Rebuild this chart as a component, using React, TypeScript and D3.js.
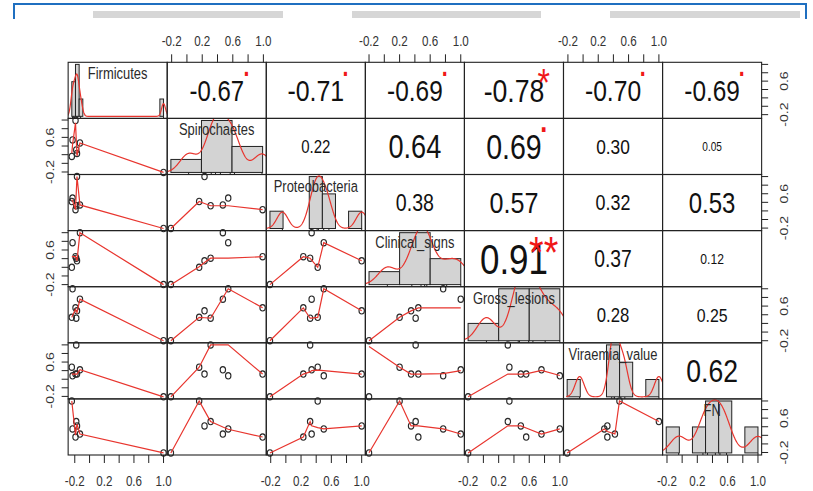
import { useEffect, useRef } from 'react'
import * as d3 from 'd3'

// variable names, in the order of the matrix
const varNames = ['Firmicutes', 'Spirochaetes', 'Proteobacteria', 'Clinical_signs', 'Gross_lesions', 'Viraemia_value', 'FN']

// one value per sample (7 samples)
const firmicutes = [1.0, -0.24, -0.17, -0.18, -0.13, -0.23, -0.19]
const spirochaetes = [-0.21, 0.16, 0.23, 0.31, 0.47, 0.54, 0.99]
const proteobacteria = [-0.21, 0.42, 1.0, 0.32, 0.34, 0.5, 0.23]
const clinicalSigns = [-0.2, 0.2, 0.35, 0.41, 1.0, 0.77, 0.445]
const grossLesions = [-0.2, 0.34, 0.49, 0.32, 0.76, 1.0, 0.56]
const viraemiaValue = [-0.21, 0.48, 0.32, 1.0, 0.42, 0.28, 0.32]
const fnValues = [-0.21, 1.0, 0.42, 0.52, 0.23, 0.35, 0.16]

// smoother values read off three panels where R's robust lowess dropped the outliers
// (in x-sorted order); all the other panels use lowess() below
const smoothViraemiaVsClinical = [0.96, 0.48, 0.32, 0.32, 0.32, 0.33, 0.4]
const smoothViraemiaVsProteo = [-0.21, 0.32, 0.37, 0.4, 0.41, 0.4, 0.32]
const smoothFnVsProteo = [-0.21, 0.16, 0.52, 0.42, 0.38, 0.35, 0.42]

// upper triangle, row by row: printed r and its significance mark
const corValues = [-0.67, -0.71, -0.69, -0.78, -0.7, -0.69, 0.22, 0.64, 0.69, 0.3, 0.05, 0.38, 0.57, 0.32, 0.53, 0.91, 0.37, 0.12, 0.28, 0.25, 0.62]
const corStars = ['.', '.', '.', '*', '.', '.', '', '', '.', '', '', '', '', '', '', '**', '', '', '', '', '']

// tick labels that R keeps (the others overlap and are dropped)
const xTickLabels = ['-0.2', '0.2', '0.6', '1.0']
const yTickLabels = ['-0.2', '0.6']

const W = 813
const H = 491
const L = 68.14
const T = 62.3
const CW = 99.07
const CH = 56.1
const SX = 0.83 // picture is squeezed horizontally
const FONT = "'Liberation Sans', Arial, Helvetica, sans-serif"
const RED = '#e8352e'

// R pretty()
function pretty(lo: number, hi: number, ndiv: number) {
  const h = 1.5, h5 = 0.5 + 1.5 * h
  const cell = (hi - lo) / ndiv
  const base = Math.pow(10, Math.floor(Math.log10(cell)))
  let unit = base
  if (2 * base - cell < h * (cell - unit)) {
    unit = 2 * base
    if (5 * base - cell < h5 * (cell - unit)) {
      unit = 5 * base
      if (10 * base - cell < h * (cell - unit)) unit = 10 * base
    }
  }
  let ns = Math.floor(lo / unit + 1e-10)
  let nu = Math.ceil(hi / unit - 1e-10)
  while (ns * unit > lo + 1e-10 * unit) ns--
  while (nu * unit < hi - 1e-10 * unit) nu++
  return d3.range(ns, nu + 1).map((k) => +(k * unit).toFixed(10))
}

// hist(breaks = "FD")
function fdBreaks(v: number[]) {
  const iqr = d3.quantile(v, 0.75)! - d3.quantile(v, 0.25)!
  const [a, b] = d3.extent(v) as [number, number]
  const nclass = Math.ceil((b - a) / (2 * iqr * Math.pow(v.length, -1 / 3)))
  return pretty(a, b, nclass)
}

// R lowess(x, y, f = 2/3, iter = 3)
function lowess(xIn: number[], yIn: number[], f = 2 / 3, nsteps = 3) {
  const order = d3.range(xIn.length).sort((a, b) => xIn[a] - xIn[b])
  const x = order.map((i) => xIn[i])
  const y = order.map((i) => yIn[i])
  const n = x.length
  const range = x[n - 1] - x[0]
  const delta = 0.01 * range
  const ys = new Array(n).fill(0)
  const rw = new Array(n).fill(1)
  const w = new Array(n).fill(0)
  const ns = Math.max(2, Math.min(n, Math.floor(f * n + 1e-7)))

  const lowest = (xs: number, nleft: number, nright: number, userw: boolean) => {
    const h = Math.max(xs - x[nleft], x[nright] - xs)
    const h9 = 0.999 * h, h1 = 0.001 * h
    let a = 0
    let j = nleft
    while (j < n) {
      w[j] = 0
      const r = Math.abs(x[j] - xs)
      if (r <= h9) {
        w[j] = r <= h1 ? 1 : Math.pow(1 - Math.pow(r / h, 3), 3)
        if (userw) w[j] *= rw[j]
        a += w[j]
      } else if (x[j] > xs) break
      j++
    }
    const nrt = j - 1
    if (a <= 0) return null
    for (j = nleft; j <= nrt; j++) w[j] /= a
    if (h > 0) {
      a = 0
      for (j = nleft; j <= nrt; j++) a += w[j] * x[j]
      let b = xs - a
      let c = 0
      for (j = nleft; j <= nrt; j++) c += w[j] * (x[j] - a) * (x[j] - a)
      if (Math.sqrt(c) > 0.001 * range) {
        b /= c
        for (j = nleft; j <= nrt; j++) w[j] *= b * (x[j] - a) + 1
      }
    }
    let out = 0
    for (j = nleft; j <= nrt; j++) out += w[j] * y[j]
    return out
  }

  for (let iter = 1; iter <= nsteps + 1; iter++) {
    let nleft = 0, nright = ns - 1, last = -1, i = 0
    for (;;) {
      if (nright < n - 1) {
        const d1 = x[i] - x[nleft]
        const d2 = x[nright + 1] - x[i]
        if (d1 > d2) {
          nleft++
          nright++
          continue
        }
      }
      const fit = lowest(x[i], nleft, nright, iter > 1)
      ys[i] = fit === null ? y[i] : fit
      if (last < i - 1) {
        const denom = x[i] - x[last]
        for (let j = last + 1; j < i; j++) {
          const alpha = (x[j] - x[last]) / denom
          ys[j] = alpha * ys[i] + (1 - alpha) * ys[last]
        }
      }
      last = i
      const cut = x[last] + delta
      for (i = last + 1; i < n; i++) {
        if (x[i] > cut) break
        if (x[i] === x[last]) {
          ys[i] = ys[last]
          last = i
        }
      }
      i = Math.max(last + 1, i - 1)
      if (last >= n - 1) break
    }
    const res = y.map((yy, k) => yy - ys[k])
    const sc = d3.mean(res, (r) => Math.abs(r))!
    if (iter > nsteps) break
    const cmad = 6 * d3.median(res, (r) => Math.abs(r))!
    if (cmad < 1e-7 * sc) break
    res.forEach((r0, k) => {
      const r = Math.abs(r0)
      rw[k] = r <= 0.001 * cmad ? 1 : r <= 0.999 * cmad ? Math.pow(1 - Math.pow(r / cmad, 2), 2) : 0
    })
  }
  return x.map((xx, k) => [xx, ys[k]] as [number, number])
}

const strWidthEm = (s: string) =>
  d3.sum(s.split(''), (c) => (c === '.' ? 0.278 : c === '-' ? 0.333 : 0.556))

export default function App() {
  const ref = useRef<SVGSVGElement>(null)

  useEffect(() => {
    const data = [firmicutes, spirochaetes, proteobacteria, clinicalSigns, grossLesions, viraemiaValue, fnValues]
    const readSmooth: Record<string, number[]> = {
      '5-3': smoothViraemiaVsClinical,
      '5-2': smoothViraemiaVsProteo,
      '6-2': smoothFnVsProteo,
    }
    const nv = data.length

    const svg = d3.select(ref.current)
    svg.selectAll('*').remove()
    svg.append('rect').attr('width', W).attr('height', H).attr('fill', '#fff')

    // screenshot frame on top
    svg.append('path').attr('d', 'M14,19V4H806V19').attr('fill', 'none').attr('stroke', '#1f6fc0').attr('stroke-width', 2)
    ;[[93, 283], [352, 541], [610, 800]].forEach(([a, b]) =>
      svg.append('rect').attr('x', a).attr('y', 11).attr('width', b - a).attr('height', 7).attr('fill', '#d6d6d6')
    )

    const usr = (v: number[]) => {
      const [a, b] = d3.extent(v) as [number, number]
      const r = b - a
      return [a - 0.04 * r, b + 0.04 * r]
    }
    const xs = data.map((v, j) => d3.scaleLinear().domain(usr(v)).range([L + j * CW, L + (j + 1) * CW]))
    const ys = data.map((v, i) => d3.scaleLinear().domain(usr(v)).range([T + (i + 1) * CH, T + i * CH]))

    const g = svg.append('g').attr('font-family', FONT)
    const defs = svg.append('defs')

    let ci = 0
    for (let i = 0; i < nv; i++) {
      for (let j = 0; j < nv; j++) {
        const x0 = L + j * CW
        const y0 = T + i * CH
        const p = g.append('g')

        if (i === j) {
          // histogram + density + rug
          const v = data[i]
          const br = fdBreaks(v)
          const nb = br.length - 1
          const fuzz = 1e-7 * d3.median(d3.pairs(br, (a, b) => b - a))!
          const counts = new Array(nb).fill(0)
          v.forEach((val) => {
            let b = 0
            while (b < nb - 1 && val > br[b + 1] + fuzz) b++
            counts[b]++
          })
          const dens = counts.map((c, b) => c / (v.length * (br[b + 1] - br[b])))
          const maxD = d3.max(dens)!
          const span = br[nb] - br[0]
          const hx = d3.scaleLinear().domain([br[0] - 0.04 * span, br[nb] + 0.04 * span]).range([x0, x0 + CW])
          const hy = d3.scaleLinear().domain([-0.04 * maxD, 1.04 * maxD]).range([y0 + CH, y0])

          p.selectAll('rect.bar')
            .data(dens)
            .join('rect')
            .attr('x', (_, b) => hx(br[b]))
            .attr('width', (_, b) => hx(br[b + 1]) - hx(br[b]))
            .attr('y', (d) => hy(d))
            .attr('height', (d) => hy(0) - hy(d))
            .attr('fill', '#d3d3d3')
            .attr('stroke', '#222')
            .attr('stroke-width', 1)

          const sd = d3.deviation(v)!
          const iqr = d3.quantile(v, 0.75)! - d3.quantile(v, 0.25)!
          const bw = 0.9 * Math.min(sd, iqr / 1.34) * Math.pow(v.length, -0.2)
          const lo = d3.min(v)! - 3 * bw
          const hi = d3.max(v)! + 3 * bw
          const kde = d3.range(512).map((k) => {
            const t = lo + ((hi - lo) * k) / 511
            const s = d3.sum(v, (xi) => Math.exp(-0.5 * ((t - xi) / bw) ** 2))
            return [t, s / (v.length * bw * Math.sqrt(2 * Math.PI))] as [number, number]
          })
          const cid = 'clip' + i
          defs.append('clipPath').attr('id', cid).append('rect').attr('x', x0).attr('y', y0).attr('width', CW).attr('height', CH)
          p.append('path')
            .attr('clip-path', `url(#${cid})`)
            .attr('d', d3.line().x((d) => hx(d[0])).y((d) => hy(d[1]))(kde))
            .attr('fill', 'none')
            .attr('stroke', RED)
            .attr('stroke-width', 1.2)

          p.selectAll('line.rug')
            .data(v)
            .join('line')
            .attr('x1', (d) => hx(d))
            .attr('x2', (d) => hx(d))
            .attr('y1', y0 + CH)
            .attr('y2', y0 + CH - 2)
            .attr('stroke', '#222')

          p.append('text')
            .attr('transform', `translate(${x0 + CW / 2},${y0 + 17}) scale(${SX},1)`)
            .attr('text-anchor', 'middle')
            .attr('font-size', 15.6)
            .attr('fill', '#2a2a2a')
            .text(varNames[i])
        } else if (i > j) {
          // scatter + smoother
          const px = data[j]
          const py = data[i]
          p.selectAll('ellipse')
            .data(px)
            .join('ellipse')
            .attr('cx', (d) => xs[j](d))
            .attr('cy', (_, k) => ys[i](py[k]))
            .attr('rx', 2.7)
            .attr('ry', 3.2)
            .attr('fill', 'none')
            .attr('stroke', '#2a2a2a')
            .attr('stroke-width', 1.1)
          const read = readSmooth[`${i}-${j}`]
          const fit = read
            ? px.slice().sort((a, b) => a - b).map((xx, k) => [xx, read[k]] as [number, number])
            : lowess(px, py)
          p.append('path')
            .attr('d', d3.line().x((d) => xs[j](d[0])).y((d) => ys[i](d[1]))(fit))
            .attr('fill', 'none')
            .attr('stroke', RED)
            .attr('stroke-width', 1.2)
        } else {
          // correlation text
          const r = corValues[ci]
          const star = corStars[ci]
          ci++
          const txt = r.toFixed(2)
          const base = 88 / strWidthEm(txt)
          const fs = (base * (Math.abs(r) + 0.3)) / 1.3
          p.append('text')
            .attr('transform', `translate(${x0 + CW / 2},${y0 + CH / 2 + 0.358 * fs}) scale(${SX},1)`)
            .attr('text-anchor', 'middle')
            .attr('font-size', fs)
            .attr('fill', '#111')
            .text(txt)
          if (star) {
            const off = star === '.' ? 0.053 : 0.5745
            p.append('text')
              .attr('transform', `translate(${x0 + 0.8 * CW},${y0 + 0.2 * CH + off * base}) scale(${SX},1)`)
              .attr('text-anchor', 'middle')
              .attr('font-size', base)
              .attr('fill', '#f01818')
              .text(star)
          }
        }

        p.append('rect')
          .attr('x', x0)
          .attr('y', y0)
          .attr('width', CW)
          .attr('height', CH)
          .attr('fill', 'none')
          .attr('stroke', '#222')
          .attr('stroke-width', 1.1)
      }
    }

    // axes, alternating sides like pairs()
    const ax = g.append('g').attr('stroke', '#222').attr('fill', '#333').attr('font-size', 14)
    const tickVals = (sc: d3.ScaleLinear<number, number>) => {
      const [a, b] = sc.domain()
      return pretty(a, b, 5).filter((t) => t >= a && t <= b)
    }
    const lab = (t: number) => (Math.abs(t) < 1e-9 ? 0 : t).toFixed(1)

    for (let j = 0; j < nv; j++) {
      const top = j % 2 === 1
      const yA = top ? T : T + nv * CH
      tickVals(xs[j]).forEach((t) => {
        const x = xs[j](t)
        ax.append('line').attr('x1', x).attr('x2', x).attr('y1', yA).attr('y2', top ? yA - 8 : yA + 8)
        if (xTickLabels.includes(lab(t))) {
          ax.append('text')
            .attr('stroke', 'none')
            .attr('transform', `translate(${x},${top ? yA - 16 : yA + 31}) scale(${SX},1)`)
            .attr('text-anchor', 'middle')
            .text(lab(t))
        }
      })
    }
    for (let i = 0; i < nv; i++) {
      const right = i % 2 === 0
      const xA = right ? L + nv * CW : L
      tickVals(ys[i]).forEach((t) => {
        const y = ys[i](t)
        ax.append('line').attr('y1', y).attr('y2', y).attr('x1', xA).attr('x2', right ? xA + 6.5 : xA - 6.5)
        if (yTickLabels.includes(lab(t))) {
          const bx = right ? 788 : 54
          ax.append('text')
            .attr('stroke', 'none')
            .attr('transform', `translate(${bx},${y}) scale(${SX},1) rotate(-90)`)
            .attr('text-anchor', 'middle')
            .text(lab(t))
        }
      })
    }
  }, [])

  return (
    <svg
      ref={ref}
      width={W}
      height={H}
      style={{ position: 'absolute', left: 0, top: 0, display: 'block' }}
    />
  )
}
